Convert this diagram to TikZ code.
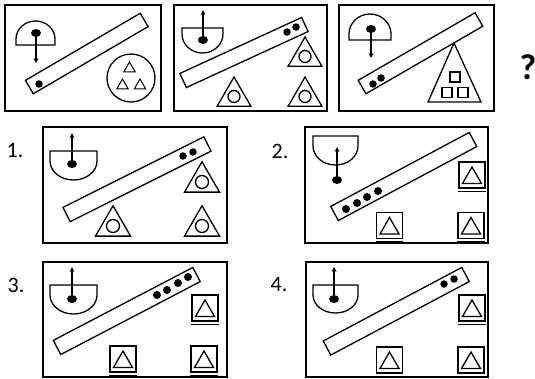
\documentclass[tikz,border=0pt]{standalone}
\usepackage{fontspec}
\setmainfont{Carlito}
\usetikzlibrary{shapes.geometric, arrows, positioning, calc}

\begin{document}
\begin{tikzpicture}[
    x=1pt, y=-1pt,
    frame/.style={draw=black, line width=2pt},
    outline/.style={draw=black, line width=1.3pt},
    bar/.style={rectangle, draw=black, line width=1.3pt, minimum height=15.5pt, inner sep=0pt},
    ball/.style={circle, fill=black, minimum size=7.5pt, inner sep=0pt},
    weight/.style={ellipse, fill=black, minimum width=10pt, minimum height=8pt, inner sep=0pt},
    ring/.style={circle, draw=black, line width=1.3pt, inner sep=0pt},
    tri/.style={regular polygon, regular polygon sides=3, draw=black, line width=1.3pt, inner sep=0pt},
    tribox/.style={rectangle, draw=black, line width=1.3pt, minimum size=26pt, inner sep=0pt},
    sq/.style={rectangle, draw=black, line width=1.2pt, minimum size=10pt, inner sep=0pt},
    pull/.style={->, >=stealth, line width=1.2pt},
    num/.style={font=\fontsize{22}{24}\selectfont, inner sep=0pt}
]
\useasboundingbox (0,0) rectangle (535,378);

% Panel A
\draw[frame] (5,5) rectangle (161,111);
\draw[outline] (16,45) -- (16,39) arc[start angle=180, end angle=360, x radius=19.5, y radius=18] -- (55,45) -- cycle;
\node[weight] (wA) at (36,33) {};
\coordinate (tipA) at (36,63);
\draw[pull] (wA.center) -- (tipA);
\node[bar, minimum width=133pt, rotate=30.3] (barA) at (86.75,53.5) {};
\node[ball] (bA1) at (39,84) {};
\node[ring, minimum size=48pt] (ringA) at (131,78) {};
\node[tri, line width=1pt, minimum size=13pt] (tA1) at (129.5,68.5) {};
\node[tri, line width=1pt, minimum size=13pt] (tA2) at (122.5,85.5) {};
\node[tri, line width=1pt, minimum size=13pt] (tA3) at (140,85.5) {};

% Panel B
\draw[frame] (174,5) rectangle (327,111);
\draw[outline] (182,28) -- (182,34) arc[start angle=180, end angle=0, x radius=20.5, y radius=19] -- (223,28) -- cycle;
\node[weight] (wB) at (203,40) {};
\coordinate (tipB) at (203,10);
\draw[pull] (wB.center) -- (tipB);
\node[bar, minimum width=134pt, rotate=24.7] (barB) at (244,52.5) {};
\node[ball] (bB1) at (287,32) {};
\node[ball] (bB2) at (296,27) {};
\node[tri, minimum size=39pt] (tB1) at (305,56.5) {};
\node[tri, minimum size=39pt] (tB2) at (234,96.5) {};
\node[tri, minimum size=39pt] (tB3) at (305,96.5) {};
\node[ring, minimum size=12pt] (cB1) at (tB1) {};
\node[ring, minimum size=12pt] (cB2) at (tB2) {};
\node[ring, minimum size=12pt] (cB3) at (tB3) {};

% Panel C
\draw[frame] (339,5) rectangle (494,111);
\draw[outline] (349,40) -- (349,34) arc[start angle=180, end angle=360, x radius=21, y radius=20] -- (391,40) -- cycle;
\node[weight] (wC) at (371,29) {};
\coordinate (tipC) at (371,58);
\draw[pull] (wC.center) -- (tipC);
\node[bar, minimum width=135pt, rotate=30] (barC) at (420.5,53.25) {};
\node[ball] (bC1) at (373,84) {};
\node[ball] (bC2) at (381,78) {};
\draw[outline] (454,43) -- (481,102) -- (428,102) -- cycle;
\node[sq] (sC1) at (455,77) {};
\node[sq] (sC2) at (447,92.5) {};
\node[sq] (sC3) at (463,92.5) {};
\node[font=\fontsize{36}{38}\selectfont\bfseries, inner sep=0pt] (ask) at (528,67) {?};

% Option 1
\node[num] (n1) at (15,151) {1.};
\draw[frame] (43,127) rectangle (227,243);
\draw[outline] (50,151) -- (50,161) arc[start angle=180, end angle=0, x radius=23.5, y radius=19] -- (97,151) -- cycle;
\node[weight] (w1) at (72,164) {};
\coordinate (tip1) at (72,133);
\draw[pull] (w1.center) -- (tip1);
\node[bar, minimum width=157.6pt, minimum height=16pt, rotate=26.6] (bar1) at (137,179.25) {};
\node[ball] (b1a) at (183,156) {};
\node[ball] (b1b) at (193,152) {};
\node[tri, minimum size=40.5pt] (t1a) at (202,182) {};
\node[tri, minimum size=40.5pt] (t1b) at (113,226) {};
\node[tri, minimum size=40.5pt] (t1c) at (202,226) {};
\node[ring, minimum size=13pt] (c1a) at (t1a) {};
\node[ring, minimum size=13pt] (c1b) at (t1b) {};
\node[ring, minimum size=13pt] (c1c) at (t1c) {};

% Option 2
\node[num] (n2) at (280,151) {2.};
\draw[frame] (305,127) rectangle (488,243);
\draw[outline] (313,136) -- (313,146) arc[start angle=180, end angle=0, x radius=22.5, y radius=19] -- (358,136) -- cycle;
\node[weight] (w2) at (337,180) {};
\coordinate (tip2) at (337,147);
\draw[pull] (w2.center) -- (tip2);
\node[bar, minimum width=157pt, minimum height=16pt, rotate=28.1] (bar2) at (403.75,176.5) {};
\node[ball, minimum size=8pt] (b2a) at (346,209) {};
\node[ball, minimum size=8pt] (b2b) at (357,203) {};
\node[ball, minimum size=8pt] (b2c) at (367,197) {};
\node[ball, minimum size=8pt] (b2d) at (378,191) {};
\node[tribox] (q2a) at (472,175) {};
\node[tribox] (q2b) at (389.5,225.5) {};
\node[tribox] (q2c) at (471,225.5) {};
\node[tri, minimum size=22pt] at ([yshift=-3pt]q2a.center) {};
\node[tri, minimum size=22pt] at ([yshift=-3pt]q2b.center) {};
\node[tri, minimum size=22pt] at ([yshift=-3pt]q2c.center) {};

% Option 3
\node[num] (n3) at (16,285) {3.};
\draw[frame] (43,262) rectangle (227,377);
\draw[outline] (50,285) -- (50,295) arc[start angle=180, end angle=0, x radius=23.5, y radius=19] -- (97,285) -- cycle;
\node[weight] (w3) at (72,299) {};
\coordinate (tip3) at (72,267);
\draw[pull] (w3.center) -- (tip3);
\node[bar, minimum width=157.4pt, minimum height=16pt, rotate=27.6] (bar3) at (126.75,311) {};
\node[ball, minimum size=8pt] (b3a) at (157,295) {};
\node[ball, minimum size=8pt] (b3b) at (167,290) {};
\node[ball, minimum size=8pt] (b3c) at (178,283) {};
\node[ball, minimum size=8pt] (b3d) at (188,277) {};
\node[tribox] (q3a) at (205,308) {};
\node[tribox] (q3b) at (123,359) {};
\node[tribox] (q3c) at (204,359) {};
\node[tri, minimum size=22pt] at ([yshift=-3pt]q3a.center) {};
\node[tri, minimum size=22pt] at ([yshift=-3pt]q3b.center) {};
\node[tri, minimum size=22pt] at ([yshift=-3pt]q3c.center) {};

% Option 4
\node[num] (n4) at (279,285) {4.};
\draw[frame] (306,262) rectangle (488,377);
\draw[outline] (313,285) -- (313,295) arc[start angle=180, end angle=0, x radius=22.5, y radius=18] -- (358,285) -- cycle;
\node[weight] (w4) at (334,299) {};
\coordinate (tip4) at (334,267);
\draw[pull] (w4.center) -- (tip4);
\node[bar, minimum width=156.8pt, minimum height=16pt, rotate=27.95] (bar4) at (396.25,311.25) {};
\node[ball] (b4a) at (444,284) {};
\node[ball] (b4b) at (454,279) {};
\node[tribox] (q4a) at (472,308) {};
\node[tribox] (q4b) at (389.5,360) {};
\node[tribox] (q4c) at (471,360) {};
\node[tri, minimum size=22pt] at ([yshift=-3pt]q4a.center) {};
\node[tri, minimum size=22pt] at ([yshift=-3pt]q4b.center) {};
\node[tri, minimum size=22pt] at ([yshift=-3pt]q4c.center) {};

% shadow lines under the boxes
\foreach \s in {q2a,q2b,q2c,q3a,q3b,q3c,q4a,q4b,q4c}
    \draw[line width=0.8pt] ([yshift=-2.6pt]\s.south west) -- ([yshift=-2.6pt]\s.south east);

\end{tikzpicture}
\end{document}
